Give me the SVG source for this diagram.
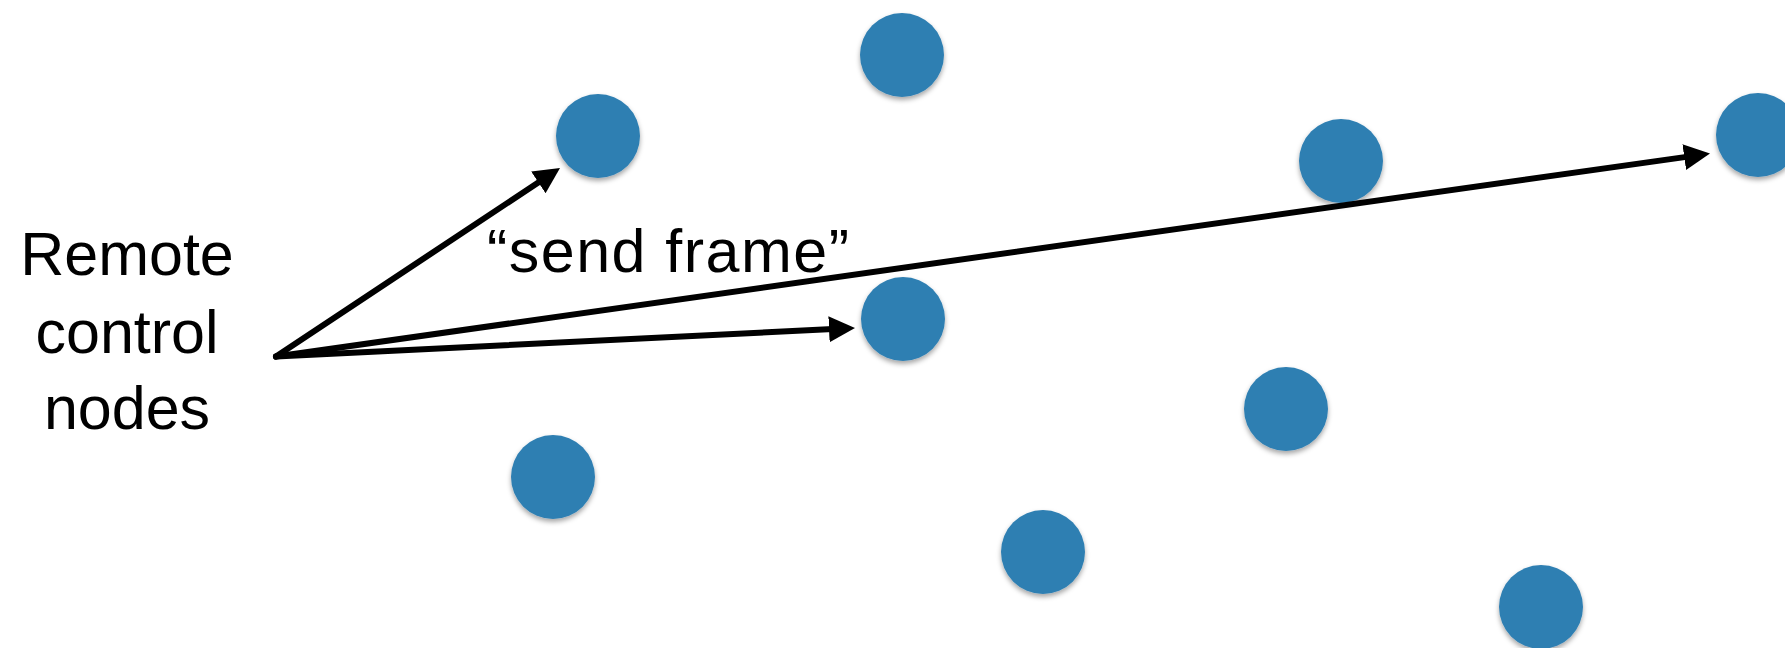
<svg xmlns="http://www.w3.org/2000/svg" width="1785" height="648" viewBox="0 0 1785 648">
  <defs>
    <filter id="shadow" x="-30%" y="-30%" width="160%" height="170%">
      <feDropShadow dx="0" dy="3" stdDeviation="2.5" flood-color="#000" flood-opacity="0.35"/>
    </filter>
    <marker id="arrow" markerUnits="userSpaceOnUse" markerWidth="28" markerHeight="28" refX="4" refY="13" orient="auto">
      <path d="M0,0 L26,13 L0,26 z" fill="#000"/>
    </marker>
    <style>
      .node { fill: #2F7FB2; filter: url(#shadow); }
      .edge { stroke: #000; stroke-width: 6; fill: none; marker-end: url(#arrow); stroke-linecap: round; }
      .label { font-family: "Liberation Sans", Arial, sans-serif; font-size: 61px; fill: #000; }
    </style>
  </defs>
  <rect width="1785" height="648" fill="#fff"/>

  <g id="n1"><circle class="node" cx="902" cy="55" r="42"/></g>
  <g id="n2"><circle class="node" cx="598" cy="136" r="42"/></g>
  <g id="n3"><circle class="node" cx="1341" cy="161" r="42"/></g>
  <g id="n4"><circle class="node" cx="1758" cy="135" r="42"/></g>
  <g id="n5"><circle class="node" cx="903" cy="319" r="42"/></g>
  <g id="n6"><circle class="node" cx="1286" cy="409" r="42"/></g>
  <g id="n7"><circle class="node" cx="553" cy="477" r="42"/></g>
  <g id="n8"><circle class="node" cx="1043" cy="552" r="42"/></g>
  <g id="n9"><circle class="node" cx="1541" cy="607" r="42"/></g>

  <g id="source">
    <text class="label" text-anchor="middle" x="127" y="275">Remote</text>
    <text class="label" text-anchor="middle" x="127" y="353">control</text>
    <text class="label" text-anchor="middle" x="127" y="429">nodes</text>
  </g>

  <g id="connectors">
    <line class="edge" x1="276" y1="356.5" x2="541.7" y2="180.2"/>
    <line class="edge" x1="276" y1="356.5" x2="833" y2="329.1"/>
    <line class="edge" x1="276" y1="356.5" x2="1688.2" y2="156.6"/>
  </g>

  <g id="edge-label">
    <text class="label" x="487" y="272" textLength="362" lengthAdjust="spacing">“send frame”</text>
  </g>
</svg>
